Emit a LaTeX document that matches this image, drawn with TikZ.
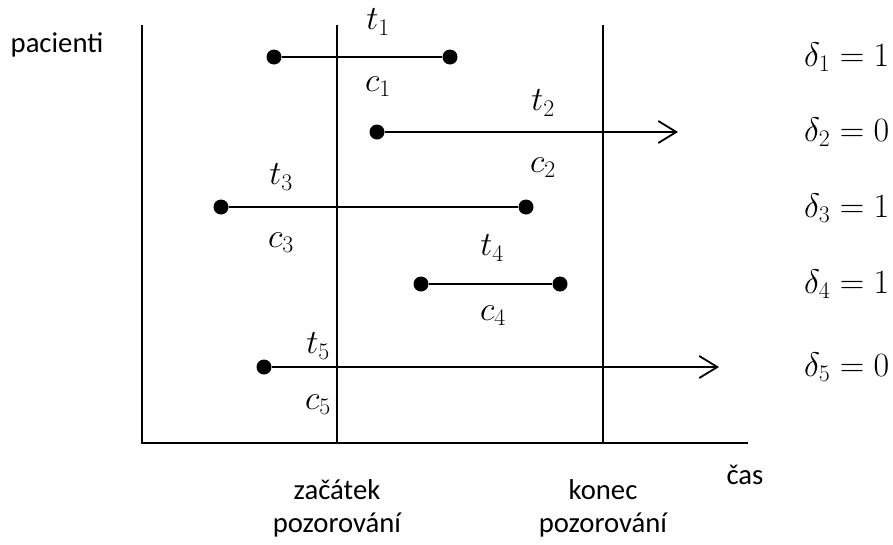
\RequirePackage{fix-cm}
\documentclass[tikz,border=0pt]{standalone}
\usepackage[no-math]{fontspec}
\setmainfont{Carlito}
\usetikzlibrary{arrows.meta}

\tikzset{
  axisline/.style={line width=1.8pt, line cap=rect},
  dot/.style={circle, fill=black, inner sep=0pt, minimum size=15pt},
  span/.style={line width=1.8pt},
  censored/.style={span, -{Straight Barb[length=18pt,width=22pt,line width=1.8pt]}},
  lbl/.style={font=\fontsize{28.7}{34}\selectfont, inner sep=0pt},
  mlbl/.style={font=\fontsize{34}{40}\selectfont, inner sep=0pt},
}

\begin{document}
\begin{tikzpicture}[x=1pt,y=-1pt]
  \useasboundingbox (0,0) rectangle (893,544);

  % axes and observation window
  \coordinate (axtop) at (142,26);
  \coordinate (origin) at (142,443);
  \coordinate (axend) at (747,443);
  \coordinate (stop) at (337,26);
  \coordinate (sbot) at (337,443);
  \coordinate (etop) at (603,26);
  \coordinate (ebot) at (603,443);
  \draw[axisline] (axtop) -- (origin) -- (axend);
  \draw[axisline] (stop) -- (sbot);
  \draw[axisline] (etop) -- (ebot);

  % patient 1
  \node[dot] (p1a) at (274,57) {};
  \node[dot] (p1b) at (450,57) {};
  \draw[span] (p1a) -- (p1b);
  \node[mlbl] (t1) at (378,22) {$t_1$};
  \node[mlbl] (c1) at (378,87) {$c_1$};

  % patient 2
  \node[dot] (p2a) at (377,132) {};
  \coordinate (p2b) at (678,132);
  \draw[censored] (p2a) -- (p2b);
  \node[mlbl] (t2) at (543,103) {$t_2$};
  \node[mlbl] (c2) at (543,168) {$c_2$};

  % patient 3
  \node[dot] (p3a) at (221,207) {};
  \node[dot] (p3b) at (526,207) {};
  \draw[span] (p3a) -- (p3b);
  \node[mlbl] (t3) at (281,177) {$t_3$};
  \node[mlbl] (c3) at (281,243) {$c_3$};

  % patient 4
  \node[dot] (p4a) at (421,284) {};
  \node[dot] (p4b) at (560,284) {};
  \draw[span] (p4a) -- (p4b);
  \node[mlbl] (t4) at (492,248) {$t_4$};
  \node[mlbl] (c4) at (493,316) {$c_4$};

  % patient 5
  \node[dot] (p5a) at (264,367) {};
  \coordinate (p5b) at (719,367);
  \draw[censored] (p5a) -- (p5b);
  \node[mlbl] (t5) at (318,346) {$t_5$};
  \node[mlbl] (c5) at (318,405) {$c_5$};

  % censoring indicators
  \node[mlbl, anchor=west] (d1) at (804,57) {$\delta_1 = 1$};
  \node[mlbl, anchor=west] (d2) at (804,132) {$\delta_2 = 0$};
  \node[mlbl, anchor=west] (d3) at (804,208) {$\delta_3 = 1$};
  \node[mlbl, anchor=west] (d4) at (804,284) {$\delta_4 = 1$};
  \node[mlbl, anchor=west] (d5) at (804,367) {$\delta_5 = 0$};

  % text labels
  \node[lbl] (pac) at (57,45) {pacienti};
  \node[lbl] (cas) at (745,475) {čas};
  \node[lbl] (zac) at (337,490) {začátek};
  \node[lbl] (zpoz) at (337,525) {pozorování};
  \node[lbl] (kon) at (603,490) {konec};
  \node[lbl] (kpoz) at (603,525) {pozorování};
\end{tikzpicture}
\end{document}
